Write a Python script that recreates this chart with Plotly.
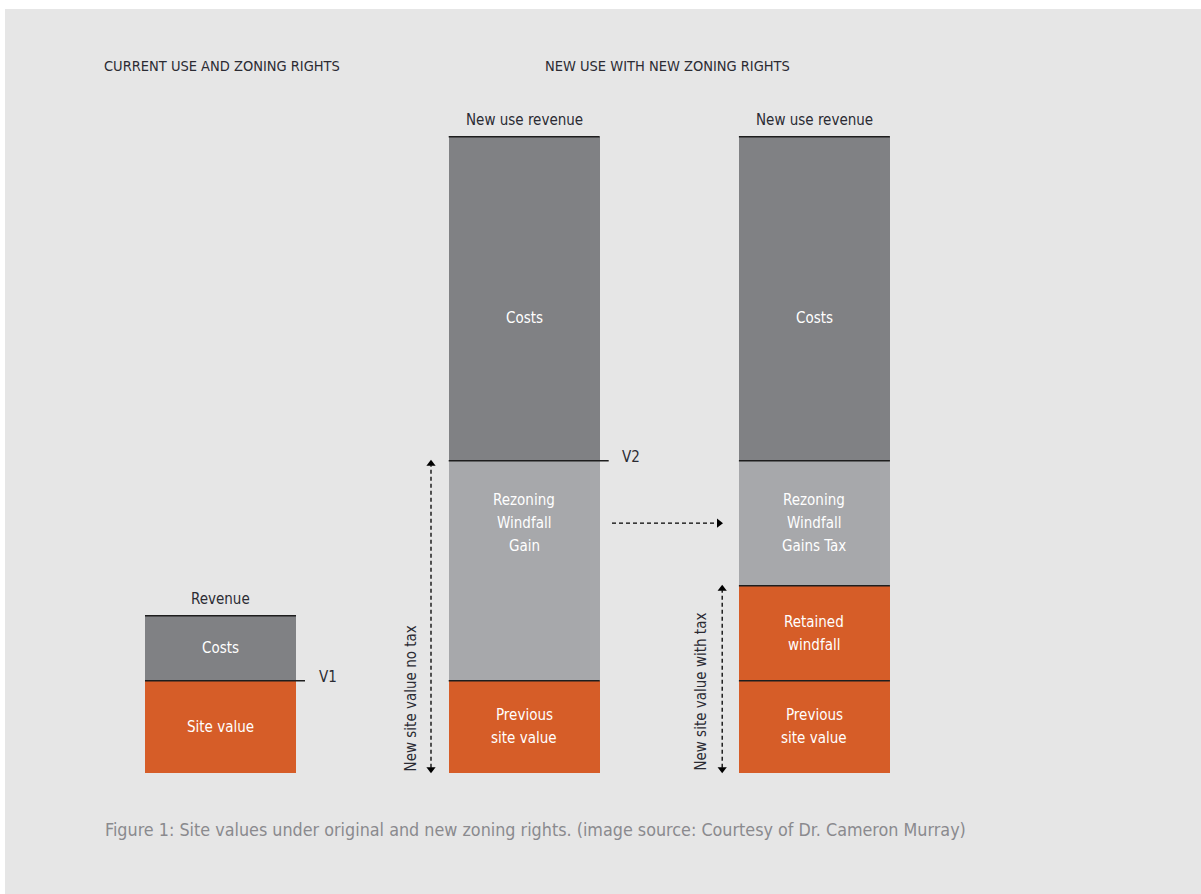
import plotly.graph_objects as go

# ---------------- data ----------------
scenarios = ["Current use", "New use, no tax", "New use, with tax"]
site_value = [9.2, 9.2, 9.2]          # site value / previous site value
retained_windfall = [0.0, 0.0, 9.5]
windfall = [0.0, 22.0, 12.5]          # windfall gain / windfall gains tax
costs = [6.5, 32.4, 32.4]

top_labels = ["Revenue", "New use revenue", "New use revenue"]
marker_labels = ["V1", "V2"]

# ---------------- layout / style ----------------
W, H = 1201, 894
bar_x = [220.5, 524.2, 814.4]
bar_w = 151
ORANGE = "#d65d28"
DARK = "#808184"
LIGHT = "#a7a8ab"
BG = "#e6e6e6"
FONT = "Liberation Sans Narrow, DejaVu Sans Condensed, Roboto, sans-serif"
TXT = "#2b2b33"
LINE_GAP = 23  # px between text lines

fig = go.Figure()
series = [
    ("site", site_value, ORANGE),
    ("retained", retained_windfall, ORANGE),
    ("windfall", windfall, LIGHT),
    ("costs", costs, DARK),
]
for name, vals, col in series:
    fig.add_trace(go.Bar(x=bar_x, y=vals, width=bar_w, name=name,
                         marker=dict(color=col, line=dict(width=0)),
                         hoverinfo="skip"))

tot = [a + b + c + d for a, b, c, d in zip(site_value, retained_windfall, windfall, costs)]
v_top = [a + b + c for a, b, c in zip(site_value, retained_windfall, windfall)]
half = bar_w / 2

shapes = []
def hline(x0, x1, y):
    shapes.append(dict(type="line", xref="x", yref="y", x0=x0, x1=x1, y0=y, y1=y,
                       line=dict(color="#1e1e1e", width=1.6)))

for i in range(3):
    l, r = bar_x[i] - half, bar_x[i] + half
    hline(l, r, tot[i])
# V1 / V2 lines extend to the right
hline(bar_x[0] - half, bar_x[0] + half + 9, v_top[0])
hline(bar_x[1] - half, bar_x[1] + half + 9, v_top[1])
hline(bar_x[1] - half, bar_x[1] + half, site_value[1])
hline(bar_x[2] - half, bar_x[2] + half, v_top[2])
hline(bar_x[2] - half, bar_x[2] + half, site_value[2] + retained_windfall[2])
hline(bar_x[2] - half, bar_x[2] + half, site_value[2])

ann = []
def label(x, y, text, size=15, color="white", **kw):
    d = dict(x=x, y=y, xref="x", yref="y", text=text, showarrow=False,
             font=dict(family=FONT, size=size, color=color))
    d.update(kw)
    ann.append(d)

def multi(x, y, lines, size=15, color="white"):
    n = len(lines)
    for k, t in enumerate(lines):
        shift = ((n - 1) / 2 - k) * LINE_GAP
        label(x, y, t, size, color, yshift=shift)

# headers
label(102, 70.67, "CURRENT USE AND ZONING RIGHTS", 14.5, TXT, xanchor="left")
label(543, 70.67, "NEW USE WITH NEW ZONING RIGHTS", 14.5, TXT, xanchor="left")
# top labels
for i in range(3):
    label(bar_x[i], tot[i] + 1.7, top_labels[i], 15, TXT)
# V labels
label(bar_x[0] + half + 21, v_top[0] + 0.4, marker_labels[0], 15, TXT, xanchor="left")
label(bar_x[1] + half + 20, v_top[1] + 0.4, marker_labels[1], 15, TXT, xanchor="left")
# bar inner labels
label(bar_x[0], site_value[0] / 2, "Site value")
label(bar_x[0], v_top[0] + costs[0] / 2, "Costs")
for i in (1, 2):
    multi(bar_x[i], site_value[i] / 2, ["Previous", "site value"])
    label(bar_x[i], v_top[i] + costs[i] * 0.44, "Costs")
tax_mid = site_value[2] + retained_windfall[2] + windfall[2] / 2
multi(bar_x[1], tax_mid, ["Rezoning", "Windfall", "Gain"])
multi(bar_x[2], tax_mid, ["Rezoning", "Windfall", "Gains Tax"])
multi(bar_x[2], site_value[2] + retained_windfall[2] / 2, ["Retained", "windfall"])
# rotated labels
label(bar_x[1] - half - 38, 7.4, "New site value no tax", 15, TXT, textangle=-90)
label(bar_x[2] - half - 38, 8.1, "New site value with tax", 15, TXT, textangle=-90)
# caption
label(103, -5.65, "Figure 1: Site values under original and new zoning rights. (image source: Courtesy of Dr. Cameron Murray)",
      17.8, "#8a8a8e", xanchor="left")

# dashed arrows
arrow_specs = [
    (bar_x[1] - half - 17.7, v_top[1]),
    (bar_x[2] - half - 16.7, site_value[2] + retained_windfall[2]),
]
for ax, ytop in arrow_specs:
    fig.add_trace(go.Scatter(x=[ax, ax], y=[0.5, ytop - 0.45], mode="lines",
                             line=dict(color="black", width=1.3, dash="4px,3px"),
                             hoverinfo="skip"))
    fig.add_trace(go.Scatter(x=[ax], y=[ytop - 0.3], mode="markers",
                             marker=dict(symbol="triangle-up", size=8, color="black"),
                             hoverinfo="skip"))
    fig.add_trace(go.Scatter(x=[ax], y=[0.35], mode="markers",
                             marker=dict(symbol="triangle-down", size=8, color="black"),
                             hoverinfo="skip"))
y_h = tax_mid
fig.add_trace(go.Scatter(x=[612, 718], y=[y_h, y_h], mode="lines",
                         line=dict(color="black", width=1.3, dash="4px,3px"),
                         hoverinfo="skip"))
fig.add_trace(go.Scatter(x=[719], y=[y_h], mode="markers",
                         marker=dict(symbol="triangle-right", size=8, color="black"),
                         hoverinfo="skip"))

fig.update_layout(
    width=W, height=H,
    margin=dict(l=5, t=9, r=0, b=0),
    paper_bgcolor="white", plot_bgcolor=BG,
    barmode="stack", bargap=0, showlegend=False,
    xaxis=dict(range=[5, W], visible=False, fixedrange=True),
    yaxis=dict(range=[-12.13, 76.37], visible=False, fixedrange=True),
    shapes=shapes, annotations=ann,
)
fig.write_html("out.html", config={"displayModeBar": False},
               post_script="document.body.style.margin='0';document.body.style.overflow='hidden';")
